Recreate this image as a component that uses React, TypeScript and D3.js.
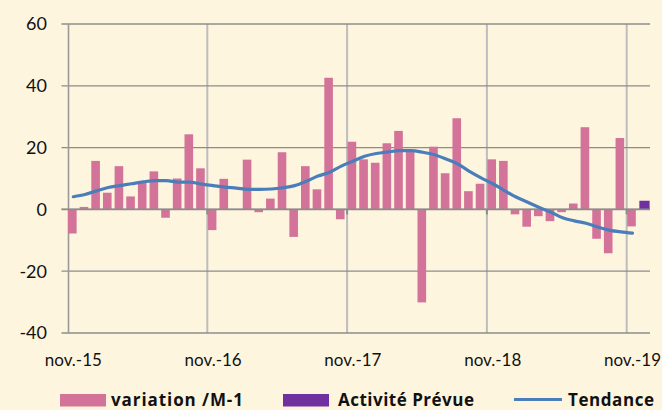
import React, { useEffect, useRef } from "react";
import * as d3 from "d3";

// monthly categories, nov-15 .. dec-19
const months: Date[] = d3.timeMonth.range(new Date(2015, 10, 1), new Date(2020, 0, 1));

// variation / M-1, nov-15 .. nov-19
const variation = [
  -7.8, 0.8, 15.7, 5.4, 14.0, 4.2, 9.1, 12.3, -2.7, 10.0, 24.3, 13.3,
  -6.7, 9.9, 0, 16.1, -0.9, 3.5, 18.5, -8.9, 14.0, 6.5, 42.6, -3.2,
  21.9, 16.2, 15.1, 21.4, 25.4, 18.8, -30.1, 20.3, 11.7, 29.5, 5.9, 8.3,
  16.2, 15.7, -1.6, -5.6, -2.2, -3.8, -0.9, 1.9, 26.6, -9.5, -14.2, 23.1,
  -5.5,
];

// Activité Prévue (dec-19 only)
const prevue = [{ month: 49, value: 2.8 }];

// Tendance, nov-15 .. nov-19
const tendance = [
  4.1, 4.8, 6.0, 7.1, 7.7, 8.3, 8.9, 9.3, 9.3, 8.8, 8.8, 8.2,
  7.7, 7.2, 6.9, 6.5, 6.5, 6.6, 7.0, 7.7, 9.1, 10.8, 12.0, 14.0,
  15.6, 17.2, 18.1, 18.6, 19.0, 19.0, 18.5, 17.7, 16.3, 14.7, 12.3, 10.2,
  8.3, 6.1, 4.0, 2.3, 0.6, -0.9, -2.7, -3.7, -4.5, -5.7, -6.7, -7.3,
  -7.7,
];

const yTicks = [60, 40, 20, 0, -20, -40];
const xTickIdx = [0, 12, 24, 36, 48];
const xTickLabels = ["nov.-15", "nov.-16", "nov.-17", "nov.-18", "nov.-19"];

const legendItems = [
  { label: "variation /M-1", kind: "rect", color: "#D47399", x: 60, tx: 111, tw: 132 },
  { label: "Activité Prévue", kind: "rect", color: "#7030A0", x: 283, tx: 338, tw: 136 },
  { label: "Tendance", kind: "line", color: "#4A7EBB", x: 514, tx: 568, tw: 86 },
];

const PINK = "#D47399";
const PURPLE = "#7030A0";
const BLUE = "#4A7EBB";
const BG = "#FEF5DF";

export default function App() {
  const svgRef = useRef<SVGSVGElement>(null);

  useEffect(() => {
    const width = 662;
    const height = 410;
    const margin = { top: 24, right: 12, bottom: 77, left: 67.5 };

    const svg = d3.select(svgRef.current);
    svg.selectAll("*").remove();
    svg.attr("width", width).attr("height", height).style("display", "block");

    svg.append("rect").attr("width", width).attr("height", height).attr("fill", BG);

    const x = d3
      .scaleBand<number>()
      .domain(months.map((_, i) => i))
      .range([margin.left, width - margin.right])
      .padding(0);
    const bw = x.bandwidth();

    const y = d3
      .scaleLinear()
      .domain([-40, 60])
      .range([height - margin.bottom, margin.top]);

    // vertical gridlines at each november
    svg
      .append("g")
      .selectAll("line")
      .data(xTickIdx.slice(1))
      .join("line")
      .attr("x1", (d) => x(d)!)
      .attr("x2", (d) => x(d)!)
      .attr("y1", y(60))
      .attr("y2", y(-40))
      .attr("stroke", "#BDBDBD")
      .attr("stroke-width", 2);

    // horizontal gridlines
    svg
      .append("g")
      .selectAll("line")
      .data(yTicks)
      .join("line")
      .attr("x1", margin.left - 6)
      .attr("x2", width - margin.right)
      .attr("y1", (d) => y(d))
      .attr("y2", (d) => y(d))
      .attr("stroke", "#8C8C8C")
      .attr("stroke-width", 1.3);

    // y axis line
    svg
      .append("line")
      .attr("x1", margin.left + 1)
      .attr("x2", margin.left + 1)
      .attr("y1", y(60))
      .attr("y2", y(-40))
      .attr("stroke", "#9A9A9A")
      .attr("stroke-width", 1.6);

    // y labels
    svg
      .append("g")
      .selectAll("text")
      .data(yTicks)
      .join("text")
      .attr("x", 47)
      .attr("y", (d) => y(d))
      .attr("dy", "0.36em")
      .attr("text-anchor", "end")
      .style("font-family", "Lato, 'Liberation Sans', sans-serif")
      .style("font-size", "18px")
      .attr("fill", "#111")
      .text((d) => d);

    // bars
    svg
      .append("g")
      .selectAll("rect")
      .data(variation)
      .join("rect")
      .attr("x", (_, i) => x(i)! + 0.5)
      .attr("width", bw * 0.74)
      .attr("y", (d) => y(Math.max(0, d)))
      .attr("height", (d) => Math.abs(y(d) - y(0)))
      .attr("fill", PINK);

    svg
      .append("g")
      .selectAll("rect")
      .data(prevue)
      .join("rect")
      .attr("x", (d) => x(d.month)! + 1)
      .attr("width", bw * 0.88)
      .attr("y", (d) => y(Math.max(0, d.value)))
      .attr("height", (d) => Math.abs(y(d.value) - y(0)))
      .attr("fill", PURPLE);

    // zero axis with ticks
    svg
      .append("line")
      .attr("x1", margin.left - 6)
      .attr("x2", width - margin.right)
      .attr("y1", y(0))
      .attr("y2", y(0))
      .attr("stroke", "#8C8C8C")
      .attr("stroke-width", 1.6);
    svg
      .append("g")
      .selectAll("line")
      .data(xTickIdx.slice(1))
      .join("line")
      .attr("x1", (d) => x(d)!)
      .attr("x2", (d) => x(d)!)
      .attr("y1", y(0))
      .attr("y2", y(0) + 5)
      .attr("stroke", "#8C8C8C")
      .attr("stroke-width", 2);

    // trend line
    const line = d3
      .line<number>()
      .x((_, i) => x(i)! + bw / 2)
      .y((d) => y(d))
      .curve(d3.curveMonotoneX);
    svg
      .append("path")
      .datum(tendance)
      .attr("d", line)
      .attr("fill", "none")
      .attr("stroke", BLUE)
      .attr("stroke-width", 3.2)
      .attr("stroke-linecap", "round");

    // x labels
    svg
      .append("g")
      .selectAll("text")
      .data(xTickIdx)
      .join("text")
      .attr("x", (d) => x(d)! + bw / 2)
      .attr("y", 366)
      .attr("text-anchor", "middle")
      .style("font-family", "Lato, 'Liberation Sans', sans-serif")
      .style("font-size", "17px")
      .attr("fill", "#111")
      .text((_, i) => xTickLabels[i]);

    // legend
    const lg = svg.append("g");
    legendItems.forEach((item) => {
      if (item.kind === "rect") {
        lg.append("rect")
          .attr("x", item.x)
          .attr("y", 394)
          .attr("width", 46)
          .attr("height", 12.5)
          .attr("fill", item.color);
      } else {
        lg.append("line")
          .attr("x1", item.x)
          .attr("x2", item.x + 48)
          .attr("y1", 399.5)
          .attr("y2", 399.5)
          .attr("stroke", item.color)
          .attr("stroke-width", 3);
      }
      lg.append("text")
        .attr("x", item.tx)
        .attr("y", 406)
        .attr("textLength", item.tw)
        .attr("lengthAdjust", "spacing")
        .style("font-family", "'Open Sans', 'Liberation Sans', sans-serif")
        .style("font-size", "17px")
        .style("font-weight", "bold")
        .attr("fill", "#111")
        .text(item.label);
    });
  }, []);

  return (
    <div style={{ position: "fixed", left: 0, top: 0 }}>
      <svg ref={svgRef}></svg>
    </div>
  );
}
